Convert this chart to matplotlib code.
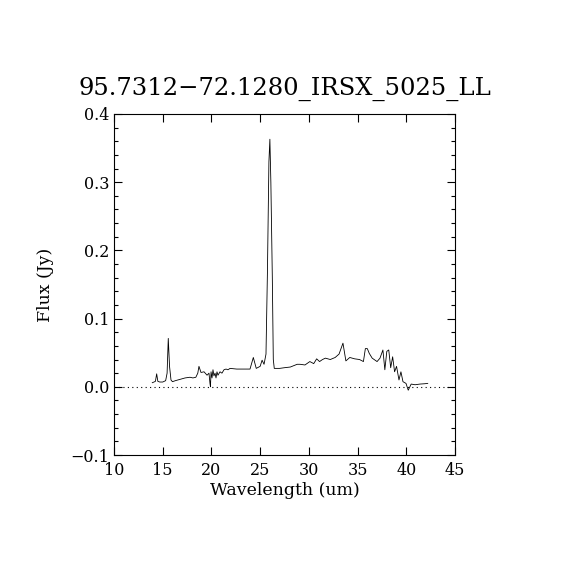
import matplotlib
matplotlib.use("Agg")
import matplotlib.pyplot as plt
from matplotlib.ticker import MultipleLocator

title = "95.7312\u221272.1280_IRSX_5025_LL"

wavelength = [13.93, 14.10, 14.25, 14.38, 14.50, 14.70, 15.00, 15.30, 15.45, 15.57, 15.70,
              15.85, 16.00, 16.30, 16.80, 17.30, 17.80, 18.10, 18.40, 18.60, 18.72,
              18.93, 19.24, 19.55, 19.75, 19.85, 19.90, 19.96, 20.06, 20.16, 20.26,
              20.37, 20.47, 20.57, 20.67, 20.88, 21.08, 21.29, 21.50, 21.70, 21.91,
              22.60, 23.30, 23.96, 24.30, 24.60, 25.00, 25.20, 25.40, 25.60, 25.75,
              25.90, 26.00, 26.10, 26.25, 26.35, 26.45, 27.00, 27.50, 28.10, 28.80,
              29.10, 29.60, 30.10, 30.50, 30.80, 31.10, 31.40, 31.70, 32.20, 32.70,
              33.10, 33.50, 33.80, 34.20, 34.70, 35.20, 35.60, 35.80, 36.00, 36.20,
              36.50, 37.00, 37.30, 37.60, 37.80, 38.00, 38.20, 38.40, 38.60, 38.80,
              39.00, 39.25, 39.45, 39.66, 39.97, 40.20, 40.50, 40.90, 41.40, 41.90,
              42.20]
flux = [0.006, 0.007, 0.008, 0.019, 0.008, 0.007, 0.007, 0.009, 0.020, 0.071, 0.030,
        0.010, 0.0075, 0.009, 0.011, 0.013, 0.014, 0.013, 0.014, 0.020, 0.030,
        0.021, 0.022, 0.017, 0.020, 0.005, 0.000, 0.022, 0.013, 0.025, 0.016,
        0.020, 0.013, 0.022, 0.017, 0.022, 0.020, 0.025, 0.026, 0.025, 0.027,
        0.026, 0.026, 0.026, 0.043, 0.027, 0.030, 0.039, 0.033, 0.048, 0.170,
        0.330, 0.363, 0.300, 0.160, 0.040, 0.027, 0.027, 0.028, 0.029, 0.033,
        0.033, 0.032, 0.037, 0.034, 0.041, 0.037, 0.040, 0.042, 0.040, 0.043,
        0.048, 0.064, 0.038, 0.043, 0.041, 0.040, 0.037, 0.056, 0.056, 0.049,
        0.042, 0.037, 0.042, 0.054, 0.025, 0.052, 0.054, 0.028, 0.044, 0.022,
        0.030, 0.010, 0.022, 0.0075, 0.005, -0.005, 0.004, 0.003, 0.004, 0.0045,
        0.005]

x_ticks = [10, 15, 20, 25, 30, 35, 40, 45]
y_ticks = [-0.1, 0.0, 0.1, 0.2, 0.3, 0.4]

plt.rcParams['font.family'] = ['DejaVu Serif']
fig = plt.figure(figsize=(5.7, 5.7), dpi=100)
ax = fig.add_axes([114/570, 1 - 455/570, 341/570, 341/570])

ax.plot(wavelength, flux, color='black', linewidth=0.6)
ax.axhline(0.0, color='black', linestyle=(0, (1, 3)), linewidth=0.8)

ax.set_xlim(10, 45)
ax.set_ylim(-0.1, 0.4)
ax.set_xticks(x_ticks)
ax.set_xticklabels([str(t) for t in x_ticks])
ax.set_yticks(y_ticks)
ax.set_yticklabels(["\u22120.1", "0.0", "0.1", "0.2", "0.3", "0.4"])
ax.yaxis.set_minor_locator(MultipleLocator(0.02))
ax.tick_params(which='both', direction='in', top=True, right=True, labelsize=11.5)
ax.tick_params(which='major', length=6, width=0.8)
ax.tick_params(which='minor', length=3, width=0.8)
ax.tick_params(axis='x', pad=5)
for s in ax.spines.values():
    s.set_linewidth(0.8)

ax.set_xlabel("Wavelength (um)", fontsize=12.5, labelpad=2)
ax.set_ylabel("Flux (Jy)", fontsize=12.5, labelpad=12)
ax.set_title(title, fontsize=17.5, pad=14)

fig.savefig("out.png", dpi=100)
